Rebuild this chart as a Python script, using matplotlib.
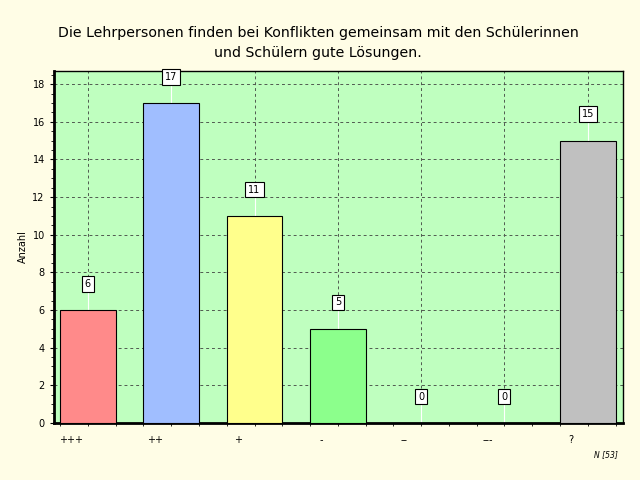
import matplotlib
matplotlib.use('Agg')
import matplotlib.pyplot as plt
import numpy as np

categories = ['+++', '++', '+', '-', '--', '---', '?']
counts = [6, 17, 11, 5, 0, 0, 15]
bar_colors = ['#FF8A8A', '#A0BEFF', '#FFFF8C', '#8CFF8C', '#BFFFBF', '#BFFFBF', '#C0C0C0']
title = 'Die Lehrpersonen finden bei Konflikten gemeinsam mit den Schülerinnen\nund Schülern gute Lösungen.'
n_total = 53

fig = plt.figure(figsize=(6.4, 4.8), dpi=100)
fig.patch.set_facecolor('#FFFDE6')
ax = fig.add_axes([0.084, 0.119, 0.889, 0.733])
ax.set_facecolor('#BFFFBF')

x = np.arange(len(categories))
ax.bar(x, counts, width=0.67, color=bar_colors, edgecolor='black', linewidth=0.8, zorder=3)

# value boxes with white connector
for xi, v in zip(x, counts):
    ax.plot([xi, xi], [v, v + 1.2], color='white', linewidth=0.8, zorder=2)
    ax.text(xi, v + 1.4, str(v), ha='center', va='center', fontsize=7, zorder=4,
            bbox=dict(boxstyle='square,pad=0.3', facecolor='white', edgecolor='black', linewidth=0.8))

# vertical dashed grid at category centres
for xi in x:
    ax.axvline(xi, linestyle=(0, (3, 3)), color='#505A50', linewidth=0.7, zorder=1)

ax.set_xlim(-0.41, 6.42)
ax.set_ylim(0, 18.7)
ax.set_yticks(np.arange(0, 19, 2))
ax.set_yticks(np.arange(0, 18.7, 0.5), minor=True)
# labels sit a bit left of the bar centres
ax.set_xticks(x - 0.2)
ax.set_xticklabels(categories)
ax.set_xticks(np.arange(-1 / 3, 6.42, 1 / 3), minor=True)
ax.tick_params(axis='both', labelsize=7, direction='out', length=3, width=0.8)
ax.tick_params(axis='x', which='major', length=0, pad=9)
ax.tick_params(axis='both', which='minor', length=2, width=0.6)

ax.grid(True, axis='y', which='major', linestyle=(0, (3, 3)), color='#505A50', linewidth=0.7, zorder=1)

ax.spines['left'].set_linewidth(2)
ax.spines['bottom'].set_linewidth(2)
ax.spines['top'].set_linewidth(1)
ax.spines['right'].set_linewidth(1)

ax.set_ylabel('Anzahl', fontsize=7, labelpad=3)
fig.text(0.497, 0.911, title, ha='center', va='center', fontsize=10.2, linespacing=1.55)
fig.text(0.965, 0.052, 'N [%d]' % n_total, ha='right', va='center', fontsize=5.5, style='italic')

fig.savefig('out.png', dpi=100, facecolor=fig.get_facecolor())
